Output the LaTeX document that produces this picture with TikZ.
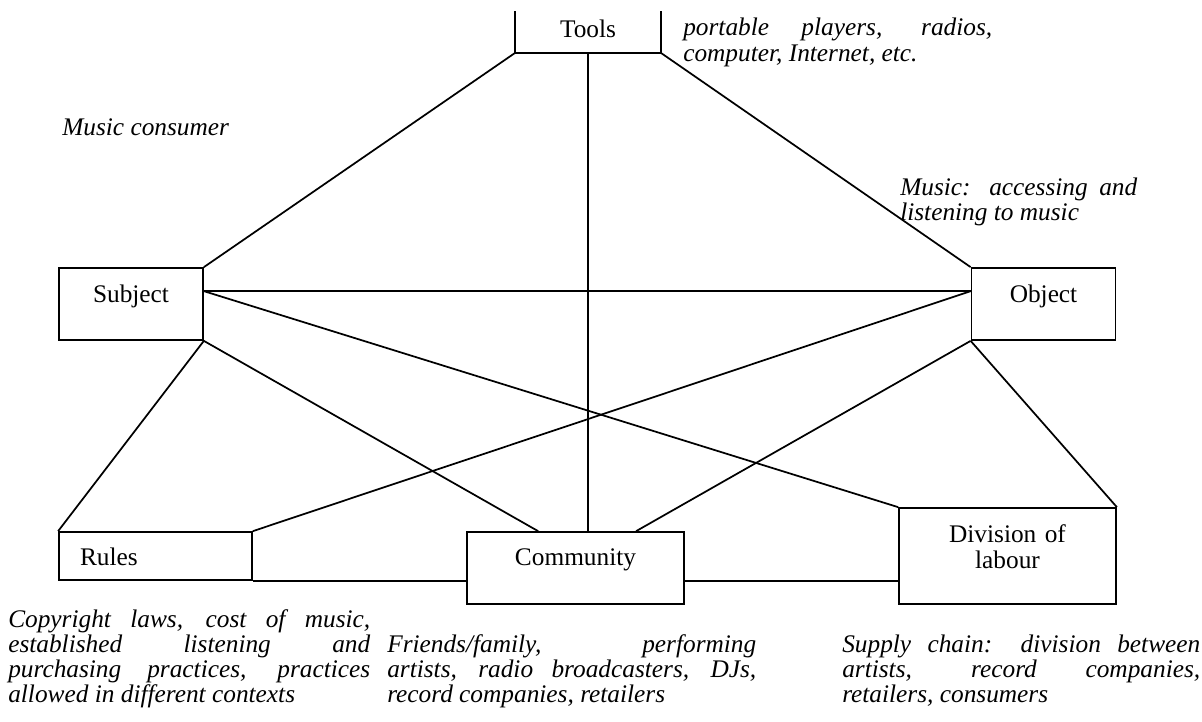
\documentclass[tikz,border=0pt]{standalone}
\usepackage{fontspec}
\setmainfont{Liberation Serif}
\usetikzlibrary{positioning,calc}

\newcommand{\spreadline}[1]{\makebox[\linewidth][s]{#1}\\}

\begin{document}
\begin{tikzpicture}[x=0.75pt,y=-0.75pt]
	\tikzset{
		boxA/.style={draw, line width=1.3pt, inner sep=0pt, align=center,
			text height=25.5pt, text depth=28.5pt,
			font=\fontsize{19}{19.5}\selectfont},
		note/.style={inner sep=0pt, anchor=base west,
			font=\fontsize{19}{18.75}\selectfont\itshape},
		link/.style={line width=1.3pt}
	}
	\useasboundingbox (0,0) rectangle (1202,721);
	
	% BOXES
	\node[boxA, draw=none, text width=108pt, text height=18.75pt, text depth=11.25pt] (tools) at (588,32) {Tools};
	\draw[link] (tools.north west) -- (tools.south west) -- (tools.south east) -- (tools.north east);
	\node[boxA, text width=108pt] (subj) at (131,304) {Subject};
	\node[boxA, text width=108pt] (obj) at (1043.5,304) {Object};
	\node[boxA, align=left, inner xsep=15.75pt, text width=113.25pt,
		text height=24.75pt, text depth=11.25pt] (rules) at (155.5,556) {Rules};
	\node[boxA, text width=162.75pt, text height=24.75pt, text depth=29.25pt] (comm) at (575.5,568) {Community};
	\node[boxA, text width=162.75pt, text depth=46.5pt] (div) at (1007.5,556) {Division of\\labour};
	
	% LINKS
	\coordinate (subjR) at ($(subj.north east)+(0,24)$);
	\coordinate (objL) at ($(obj.north west)+(0,24)$);
	\draw[link] (subj.north east) -- (tools.south west);
	\draw[link] (obj.north west) -- (tools.south east);
	\draw[link] (tools.south) -- (tools.south |- comm.north);
	\draw[link] (subjR) -- (objL);
	\draw[link] (subjR) -- (div.north west);
	\draw[link] (objL) -- (rules.north east);
	\draw[link] (subj.south east) -- (rules.north west);
	\draw[link] (subj.south east) -- ($(comm.north west)+(72,0)$);
	\draw[link] (obj.south west) -- ($(comm.north west)+(170,0)$);
	\draw[link] (obj.south west) -- (div.north east);
	\draw[link] (rules.south east) -- (rules.south east -| comm.west);
	\draw[link] (rules.south east -| comm.east) -- (rules.south east -| div.west);
	
	% NOTES
	\node[note] (toolsnote) at (683,36) {\parbox[t]{231.75pt}{\spreadline{portable players, radios,}computer, Internet, etc.}};
	\node[note] (subjnote) at (62,135) {Music consumer};
	\node[note] (objnote) at (900,195) {\parbox[t]{177.75pt}{\spreadline{Music: accessing and}listening to music}};
	\node[note] (rulesnote) at (8,627) {\parbox[t]{271.5pt}{\spreadline{Copyright laws, cost of music,}\spreadline{established listening and}\spreadline{purchasing practices, practices}allowed in different contexts}};
	\node[note] (commnote) at (387,652) {\parbox[t]{276.75pt}{\spreadline{Friends/family, performing}\spreadline{artists, radio broadcasters, DJs,}record companies, retailers}};
	\node[note] (divnote) at (842,652) {\parbox[t]{268.5pt}{\spreadline{Supply chain: division between}\spreadline{artists, record companies,}retailers, consumers}};
\end{tikzpicture}
\end{document}
